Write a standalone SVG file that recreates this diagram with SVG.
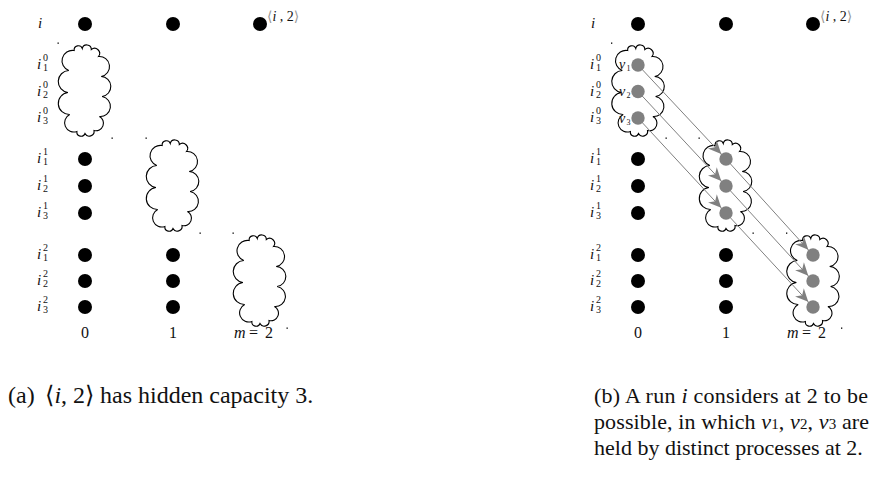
<svg xmlns="http://www.w3.org/2000/svg" xmlns:xlink="http://www.w3.org/1999/xlink" width="872" height="477" viewBox="0 0 872 477">
<style>
.dot{fill:#000}
.gdot{fill:#808080}
.cloud{fill:none;stroke:#000;stroke-width:1.1}
.ln{fill:none;stroke:#808080;stroke-width:1;marker-end:url(#ah)}
.tk{fill:#000}
.lab{font-family:"Liberation Serif","Times New Roman","DejaVu Serif",serif;font-style:italic;font-size:15px;fill:#111}
.sm{font-family:"Liberation Serif","Times New Roman","DejaVu Serif",serif;font-size:10px;fill:#111}
.num{font-family:"Liberation Serif","Times New Roman","DejaVu Serif",serif;font-size:16px;fill:#111}
.it{font-style:italic}
.br{fill:#999}
.cap{font-family:"Liberation Serif","Times New Roman","DejaVu Serif",serif;font-size:22px;fill:#111}
</style>
<defs>
<path id="cloud" class="cloud" d="M-10.8,-40 A4.2,4.2 0 0 1 -2.7,-42 A4.55,4.55 0 0 1 6.3,-41 A5.05,5.05 0 0 1 13.5,-34 A10.1,10.1 0 0 1 16.2,-14 A10.05,10.05 0 0 1 17.1,6 A10.1,10.1 0 0 1 14.4,26 A7.55,7.55 0 0 1 9,40 A4.8,4.8 0 0 1 0,43 A4.2,4.2 0 0 1 -8.1,41 A9.25,9.25 0 0 1 -15.3,24 A11.05,11.05 0 0 1 -17.1,2 A11.05,11.05 0 0 1 -16.2,-20 A10.4,10.4 0 0 1 -10.8,-40 Z"/>
<marker id="ah" markerUnits="userSpaceOnUse" orient="auto" refX="7" refY="0" markerWidth="20" markerHeight="14" overflow="visible">
<path d="M0,0 L-13,-6 L-9,0 L-13,6 Z" fill="#808080"/>
</marker>
</defs>

<!-- Panel (a) -->
<g id="panel-a">
<g id="a-labels">
<text class="lab" x="38" y="28">i</text>
<text class="lab" x="37" y="69">i</text><text class="sm" x="43" y="61">0</text><text class="sm" x="43" y="71">1</text>
<text class="lab" x="37" y="95.5">i</text><text class="sm" x="43" y="87.5">0</text><text class="sm" x="43" y="97.5">2</text>
<text class="lab" x="37" y="122">i</text><text class="sm" x="43" y="114">0</text><text class="sm" x="43" y="124">3</text>
<text class="lab" x="37" y="163">i</text><text class="sm" x="43" y="155">1</text><text class="sm" x="43" y="165">1</text>
<text class="lab" x="37" y="190">i</text><text class="sm" x="43" y="182">1</text><text class="sm" x="43" y="192">2</text>
<text class="lab" x="37" y="217">i</text><text class="sm" x="43" y="209">1</text><text class="sm" x="43" y="219">3</text>
<text class="lab" x="37" y="259">i</text><text class="sm" x="43" y="251">2</text><text class="sm" x="43" y="261">1</text>
<text class="lab" x="37" y="285">i</text><text class="sm" x="43" y="277">2</text><text class="sm" x="43" y="287">2</text>
<text class="lab" x="37" y="311">i</text><text class="sm" x="43" y="303">2</text><text class="sm" x="43" y="313">3</text>
<text class="num" x="85" y="338" text-anchor="middle">0</text>
<text class="num" x="173" y="338" text-anchor="middle">1</text>
<text class="num" y="338"><tspan class="it" x="234">m</tspan><tspan x="249">=</tspan><tspan x="265">2</tspan></text>
<text class="lab" x="267" y="21" style="font-style:normal;font-size:14px"><tspan class="br">⟨</tspan><tspan class="it">i</tspan> , 2<tspan class="br">⟩</tspan></text>
</g>
<g id="a-cloud0"><use xlink:href="#cloud" transform="translate(85,90.5)"/></g>
<g id="a-cloud1"><use xlink:href="#cloud" transform="translate(173,185.5)"/></g>
<g id="a-cloud2"><use xlink:href="#cloud" transform="translate(260,280.5)"/></g>
<g id="a-ticks">
<rect class="tk" x="57.5" y="42.5" width="1.3" height="1.3"/><rect class="tk" x="111.5" y="137.5" width="1.3" height="1.3"/>
<rect class="tk" x="145.5" y="137.5" width="1.3" height="1.3"/><rect class="tk" x="199.5" y="232.5" width="1.3" height="1.3"/>
<rect class="tk" x="232.5" y="232.5" width="1.3" height="1.3"/><rect class="tk" x="286.5" y="327.5" width="1.3" height="1.3"/>
</g>
<g id="a-dots">
<circle class="dot" cx="85" cy="24" r="7"/><circle class="dot" cx="173" cy="24" r="7"/><circle class="dot" cx="260" cy="24" r="7"/>
<circle class="dot" cx="85" cy="159" r="7"/><circle class="dot" cx="85" cy="186" r="7"/><circle class="dot" cx="85" cy="213" r="7"/>
<circle class="dot" cx="85" cy="255" r="7"/><circle class="dot" cx="85" cy="281" r="7"/><circle class="dot" cx="85" cy="307" r="7"/>
<circle class="dot" cx="173" cy="255" r="7"/><circle class="dot" cx="173" cy="281" r="7"/><circle class="dot" cx="173" cy="307" r="7"/>
</g>
</g>

<!-- Panel (b) -->
<g id="panel-b">
<g id="b-labels">
<text class="lab" x="591" y="28">i</text>
<text class="lab" x="590" y="69">i</text><text class="sm" x="596" y="61">0</text><text class="sm" x="596" y="71">1</text>
<text class="lab" x="590" y="95.5">i</text><text class="sm" x="596" y="87.5">0</text><text class="sm" x="596" y="97.5">2</text>
<text class="lab" x="590" y="122">i</text><text class="sm" x="596" y="114">0</text><text class="sm" x="596" y="124">3</text>
<text class="lab" x="590" y="163">i</text><text class="sm" x="596" y="155">1</text><text class="sm" x="596" y="165">1</text>
<text class="lab" x="590" y="190">i</text><text class="sm" x="596" y="182">1</text><text class="sm" x="596" y="192">2</text>
<text class="lab" x="590" y="217">i</text><text class="sm" x="596" y="209">1</text><text class="sm" x="596" y="219">3</text>
<text class="lab" x="590" y="259">i</text><text class="sm" x="596" y="251">2</text><text class="sm" x="596" y="261">1</text>
<text class="lab" x="590" y="285">i</text><text class="sm" x="596" y="277">2</text><text class="sm" x="596" y="287">2</text>
<text class="lab" x="590" y="311">i</text><text class="sm" x="596" y="303">2</text><text class="sm" x="596" y="313">3</text>
<text class="num" x="638" y="338" text-anchor="middle">0</text>
<text class="num" x="726" y="338" text-anchor="middle">1</text>
<text class="num" y="338"><tspan class="it" x="787">m</tspan><tspan x="802">=</tspan><tspan x="818">2</tspan></text>
<text class="lab" x="820" y="21" style="font-style:normal;font-size:14px"><tspan class="br">⟨</tspan><tspan class="it">i</tspan> , 2<tspan class="br">⟩</tspan></text>
</g>
<g id="b-cloud0"><use xlink:href="#cloud" transform="translate(638.5,90.5)"/></g>
<g id="b-cloud1"><use xlink:href="#cloud" transform="translate(726,185.5)"/></g>
<g id="b-cloud2"><use xlink:href="#cloud" transform="translate(813.5,280.5)"/></g>
<g id="b-ticks">
<rect class="tk" x="611" y="42.5" width="1.3" height="1.3"/><rect class="tk" x="665.5" y="137.5" width="1.3" height="1.3"/>
<rect class="tk" x="698.5" y="137.5" width="1.3" height="1.3"/><rect class="tk" x="752.5" y="232.5" width="1.3" height="1.3"/>
<rect class="tk" x="786" y="232.5" width="1.3" height="1.3"/><rect class="tk" x="841" y="327.5" width="1.3" height="1.3"/>
</g>
<g id="connectors">
<path class="ln" d="M638,65 L726,159"/>
<path class="ln" d="M638,91.5 L726,186"/>
<path class="ln" d="M638,118 L726,213"/>
<path class="ln" d="M726,159 L813,255"/>
<path class="ln" d="M726,186 L813,281"/>
<path class="ln" d="M726,213 L813,307"/>
</g>
<g id="b-dots">
<circle class="dot" cx="638" cy="24" r="7"/><circle class="dot" cx="726" cy="24" r="7"/><circle class="dot" cx="813" cy="24" r="7"/>
<circle class="dot" cx="638" cy="159" r="7"/><circle class="dot" cx="638" cy="186" r="7"/><circle class="dot" cx="638" cy="213" r="7"/>
<circle class="dot" cx="638" cy="255" r="7"/><circle class="dot" cx="638" cy="281" r="7"/><circle class="dot" cx="638" cy="307" r="7"/>
<circle class="dot" cx="726" cy="255" r="7"/><circle class="dot" cx="726" cy="281" r="7"/><circle class="dot" cx="726" cy="307" r="7"/>
</g>
<g id="b-v1"><circle class="gdot" cx="638" cy="65" r="6.7"/><text class="lab" x="619" y="69" style="font-size:14px">v</text><text class="sm" x="626.5" y="71" style="font-size:8px">1</text></g>
<g id="b-v2"><circle class="gdot" cx="638" cy="91.5" r="6.7"/><text class="lab" x="619" y="96" style="font-size:14px">v</text><text class="sm" x="626.5" y="98" style="font-size:8px">2</text></g>
<g id="b-v3"><circle class="gdot" cx="638" cy="118" r="6.7"/><text class="lab" x="619" y="122.5" style="font-size:14px">v</text><text class="sm" x="626.5" y="124.5" style="font-size:8px">3</text></g>
<g id="b-g1">
<circle class="gdot" cx="726" cy="159" r="6.7"/><circle class="gdot" cx="726" cy="186" r="6.7"/><circle class="gdot" cx="726" cy="213" r="6.7"/>
</g>
<g id="b-g2">
<circle class="gdot" cx="813" cy="255" r="6.7"/><circle class="gdot" cx="813" cy="281" r="6.7"/><circle class="gdot" cx="813" cy="307" r="6.7"/>
</g>
</g>

<!-- Captions -->
<g id="captions">
<text class="cap" x="8" y="403" style="font-size:24px">(a)</text>
<text class="cap" x="45" y="403" style="font-size:24px">⟨<tspan class="it">i</tspan>, 2⟩</text>
<text class="cap" x="100" y="403" style="font-size:24px">has hidden capacity 3.</text>
<text class="cap" x="594" y="403" textLength="274" lengthAdjust="spacing">(b)  A run <tspan class="it">i</tspan> considers at 2 to be</text>
<text class="cap" x="594" y="429" textLength="275" lengthAdjust="spacing">possible, in which <tspan class="it">v</tspan><tspan style="font-size:15px">1</tspan>, <tspan class="it">v</tspan><tspan style="font-size:15px">2</tspan>, <tspan class="it">v</tspan><tspan style="font-size:15px">3</tspan> are</text>
<text class="cap" x="594" y="455">held by distinct processes at 2.</text>
</g>
</svg>
